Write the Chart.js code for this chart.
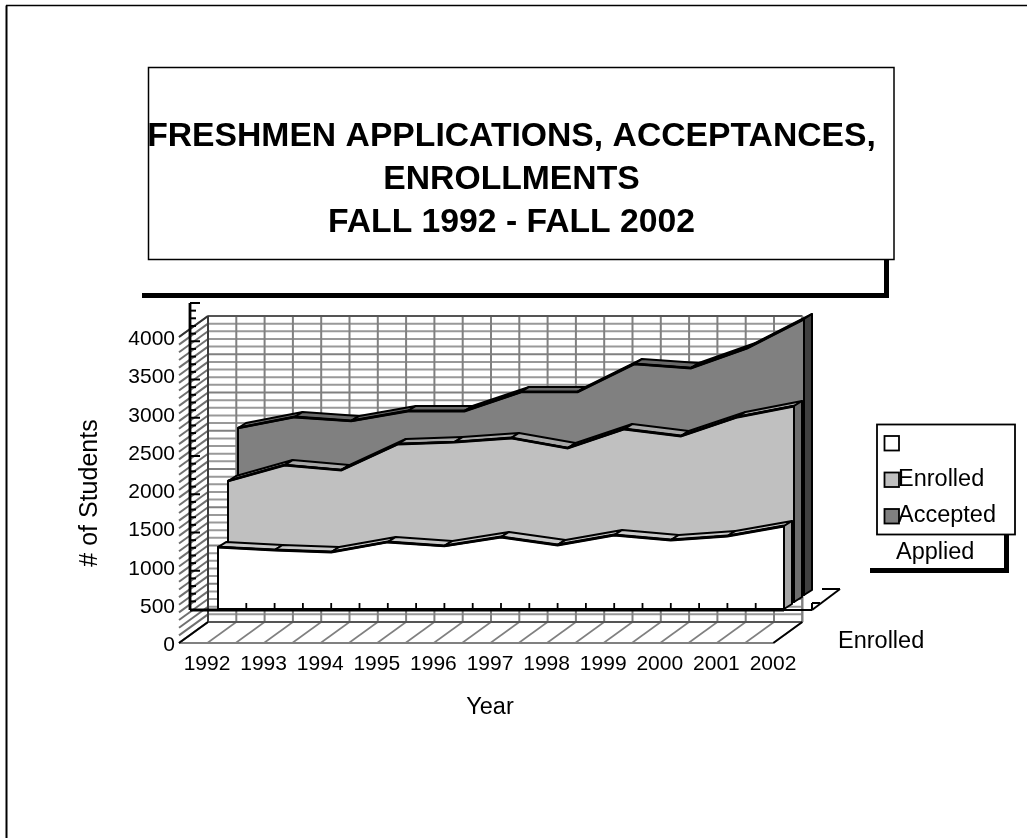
<!DOCTYPE html>
<html>
<head>
<meta charset="utf-8">
<title>Freshmen applications</title>
<script src="https://cdn.jsdelivr.net/npm/chart.js@4"></script>
<style>
  html, body { margin: 0; padding: 0; background: #fff; }
  canvas { display: block; }
</style>
</head>
<body>
<canvas id="chart" width="1028" height="838"></canvas>
<script>
// Data
const years = ['1992','1993','1994','1995','1996','1997','1998','1999','2000','2001','2002'];
const enrolled = [810, 771, 745, 876, 824, 941, 837, 967, 902, 954, 1085];
const accepted = [1582, 1790, 1725, 2065, 2091, 2144, 2013, 2261, 2170, 2418, 2562];
const applied = [2183, 2327, 2275, 2405, 2405, 2654, 2654, 3020, 2967, 3229, 3608];
const yTicks = [0, 500, 1000, 1500, 2000, 2500, 3000, 3500, 4000];
const legendNames = ['', 'Enrolled', 'Accepted'];
const titleLines = ['FRESHMEN APPLICATIONS, ACCEPTANCES,', 'ENROLLMENTS', 'FALL 1992 - FALL 2002'];

const FONT = '"Liberation Sans", Arial, sans-serif';
const GREY = '#808080';

function line(ctx, x1, y1, x2, y2, color, width) {
    ctx.strokeStyle = color;
    ctx.lineWidth = width;
    ctx.beginPath();
    ctx.moveTo(x1, y1);
    ctx.lineTo(x2, y2);
    ctx.stroke();
}

function text(ctx, str, x, y, size, align, weight) {
    ctx.fillStyle = '#000';
    ctx.font = (weight || 'normal') + ' ' + size + 'px ' + FONT;
    ctx.textAlign = align || 'left';
    ctx.textBaseline = 'alphabetic';
    ctx.fillText(str, x, y);
}

// Line controller that pushes each series back in depth and gives it a 3D ribbon
class Area3D extends Chart.LineController {
    draw() {
        const ctx = this.chart.ctx;
        const ds = this.getDataset();
        const pts = this.getMeta().data;
        const base = this.getScaleForId('y').getPixelForValue(0);
        const last = pts[pts.length - 1];
        const dx = 8, dy = -5;

        ctx.save();
        ctx.translate(this.index * 10, this.index * -7);
        ctx.lineJoin = 'round';
        ctx.strokeStyle = '#000';
        ctx.lineWidth = 2;

        // top faces
        ctx.fillStyle = ds.topColor;
        for (let i = 0; i < pts.length - 1; i++) {
            ctx.beginPath();
            ctx.moveTo(pts[i].x, pts[i].y);
            ctx.lineTo(pts[i + 1].x, pts[i + 1].y);
            ctx.lineTo(pts[i + 1].x + dx, pts[i + 1].y + dy);
            ctx.lineTo(pts[i].x + dx, pts[i].y + dy);
            ctx.closePath();
            ctx.fill();
            ctx.stroke();
        }

        // right side face
        ctx.fillStyle = ds.sideColor;
        ctx.beginPath();
        ctx.moveTo(last.x, last.y);
        ctx.lineTo(last.x + dx, last.y + dy);
        ctx.lineTo(last.x + dx, base + dy);
        ctx.lineTo(last.x, base);
        ctx.closePath();
        ctx.fill();
        ctx.stroke();

        // front face
        ctx.fillStyle = ds.frontColor;
        ctx.beginPath();
        ctx.moveTo(pts[0].x, base);
        pts.forEach(p => ctx.lineTo(p.x, p.y));
        ctx.lineTo(last.x, base);
        ctx.closePath();
        ctx.fill();
        ctx.stroke();

        super.draw();
        ctx.restore();
    }
}
Area3D.id = 'area3d';
Area3D.defaults = Chart.LineController.defaults;
Chart.register(Area3D);

// Walls and floor, behind the series
const wallsPlugin = {
    id: 'walls',
    beforeDatasetsDraw(chart) {
        const ctx = chart.ctx;
        const x = chart.scales.x, y = chart.scales.y;
        const x0 = x.getPixelForValue(0);
        const frontX = v => x.getPixelForValue(v) - 39;
        const backX = v => x.getPixelForValue(v) - 10;
        const frontY = v => y.getPixelForValue(v) + 34;
        const backY = v => y.getPixelForValue(v) + 13;
        const lastX = years.length - 1 + 0.5;

        ctx.save();
        // page frame
        line(ctx, 6.5, 5.5, 6.5, 838, '#000', 2);
        line(ctx, 6, 5.5, 1027, 5.5, '#000', 1.5);

        // back wall
        for (let v = 0; v <= 4000; v += 100) {
            line(ctx, backX(0), backY(v), backX(lastX), backY(v), v % 500 === 0 ? GREY : '#999999', 2);
            line(ctx, frontX(0), frontY(v), backX(0), backY(v), '#707070', 2);
        }
        for (let k = 0; k <= 21; k++) {
            line(ctx, backX(k / 2), backY(4000), backX(k / 2), backY(0), GREY, 2);
            line(ctx, frontX(k / 2), frontY(0), backX(k / 2), backY(0), GREY, 1.6);
        }
        line(ctx, backX(0), backY(4000), backX(lastX), backY(4000), '#555', 1.8);
        line(ctx, backX(lastX), backY(4000), backX(lastX), backY(0), GREY, 2);
        line(ctx, backX(0), backY(0), backX(lastX), backY(0), '#555', 2);
        line(ctx, backX(0), backY(4000), backX(0), backY(0), '#333', 1.8);
        line(ctx, frontX(0), frontY(4000), backX(0), backY(4000), '#333', 1.8);
        line(ctx, frontX(0), frontY(0), frontX(lastX), frontY(0), GREY, 2);
        line(ctx, frontX(0), frontY(0), backX(0), backY(0), '#000', 1.8);
        line(ctx, frontX(lastX), frontY(0), backX(lastX), backY(0), '#000', 1.8);

        // dark inner axis with its ticks
        const axisX = x0 - 28;
        const zero = y.getPixelForValue(0);
        line(ctx, axisX, y.getPixelForValue(4000), axisX, zero + 1, '#000', 2.8);
        for (let v = 100; v <= 4000; v += 100) {
            line(ctx, axisX, y.getPixelForValue(v), axisX + (v % 500 === 0 ? 10 : 6), y.getPixelForValue(v), '#000', 2);
        }
        ctx.restore();
    },
    afterDatasetsDraw(chart) {
        const ctx = chart.ctx;
        const x = chart.scales.x, y = chart.scales.y;
        const zero = y.getPixelForValue(0);
        const x0 = x.getPixelForValue(0);
        const xEnd = x.getPixelForValue(years.length - 1);

        ctx.save();
        // baseline of the front series
        line(ctx, x0 - 28, zero + 1, xEnd, zero + 1, '#000', 2.8);
        for (let k = 0; k <= 20; k++) {
            line(ctx, x.getPixelForValue(k / 2), zero - 6, x.getPixelForValue(k / 2), zero, '#000', 1.8);
        }
        line(ctx, xEnd, zero + 1, xEnd + 28, zero + 1, '#000', 2);
        line(ctx, xEnd + 28, zero + 1, xEnd + 56, zero - 20, '#000', 2);
        line(ctx, xEnd + 56, zero - 20, xEnd + 38, zero - 20, '#000', 2);
        line(ctx, xEnd + 28, zero + 1, xEnd + 28, zero - 6, '#000', 2);
        line(ctx, xEnd + 28, zero - 6, xEnd + 36, zero - 6, '#000', 2);

        // axis labels
        yTicks.forEach(v => text(ctx, String(v), 175, y.getPixelForValue(v) + 42, 21, 'right'));
        years.forEach((yr, i) => text(ctx, yr, x.getPixelForValue(i) - 11, 670, 21, 'center'));
        text(ctx, 'Year', 490, 714, 23.5, 'center');
        text(ctx, 'Enrolled', 838, 648, 23.5);
        ctx.save();
        ctx.translate(97, 493);
        ctx.rotate(-Math.PI / 2);
        text(ctx, '# of Students', 0, 0, 25, 'center');
        ctx.restore();

        // title box with its shadow
        ctx.fillStyle = '#000';
        ctx.fillRect(142, 293, 746, 5);
        ctx.fillRect(884, 259, 5, 39);
        ctx.fillStyle = '#fff';
        ctx.fillRect(148.5, 67.5, 745.5, 192);
        ctx.strokeStyle = '#000';
        ctx.lineWidth = 1.5;
        ctx.strokeRect(148.5, 67.5, 745.5, 192);
        titleLines.forEach((t, i) => text(ctx, t, 511.5, 146 + i * 43, 33.7, 'center', 'bold'));

        // legend box with its shadow
        ctx.fillStyle = '#000';
        ctx.fillRect(870, 568, 139, 5);
        ctx.fillRect(1004, 534, 5, 39);
        ctx.fillStyle = '#fff';
        ctx.fillRect(877, 424.5, 138, 110);
        ctx.strokeStyle = '#000';
        ctx.lineWidth = 1.8;
        ctx.strokeRect(877, 424.5, 138, 110);
        chart.data.datasets.forEach((ds, i) => {
            const top = 436 + i * 36.5;
            ctx.fillStyle = ds.frontColor;
            ctx.fillRect(884.5, top, 14.5, 14.5);
            ctx.strokeStyle = '#000';
            ctx.lineWidth = 1.8;
            ctx.strokeRect(884.5, top, 14.5, 14.5);
            if (legendNames[i]) text(ctx, legendNames[i], 898, top + 13, 23.5);
        });
        text(ctx, 'Applied', 896, 559, 23.5);
        ctx.restore();
    }
};

new Chart(document.getElementById('chart'), {
    type: 'area3d',
    data: {
        labels: years,
        datasets: [
            { label: 'Enrolled', data: enrolled, frontColor: '#ffffff', topColor: '#c8c8c8', sideColor: '#a6a6a6' },
            { label: 'Accepted', data: accepted, frontColor: '#c0c0c0', topColor: '#a8a8a8', sideColor: '#6e6e6e' },
            { label: 'Applied', data: applied, frontColor: '#808080', topColor: '#6a6a6a', sideColor: '#404040' }
        ].map(ds => Object.assign(ds, {
            borderColor: '#000', borderWidth: 2.8, tension: 0, pointRadius: 0, fill: false, clip: false
        }))
    },
    options: {
        responsive: false,
        animation: false,
        layout: { padding: { left: 218, top: 303, right: 244, bottom: 229 } },
        plugins: { legend: { display: false }, tooltip: { enabled: false }, title: { display: false } },
        scales: {
            x: { type: 'category', display: false, offset: false },
            y: { type: 'linear', display: false, min: 0, max: 4000 }
        }
    },
    plugins: [wallsPlugin]
});
</script>
</body>
</html>
